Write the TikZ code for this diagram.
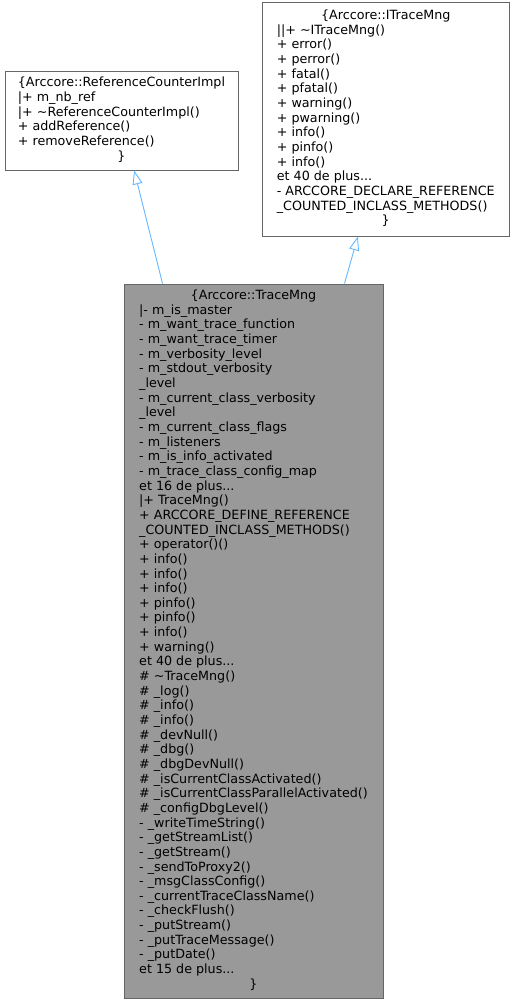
\documentclass[tikz,border=0pt]{standalone}
\usepackage{fontspec}
\setmainfont{DejaVu Sans}
\usetikzlibrary{arrows.meta,calc,positioning}
\definecolor{doxborder}{HTML}{666666}
\definecolor{doxfocus}{HTML}{999999}
\definecolor{doxedge}{HTML}{63B8FF}

\begin{document}
\begin{tikzpicture}[x=1pt, y=-1pt,
      classbox/.style={draw=doxborder, line width=0.9pt, fill=white, inner sep=0pt, align=center, font=\fontsize{12.7}{14.65}\selectfont},
      inherit/.style={draw=doxedge, line width=0.9pt, -{Triangle[length=14pt, width=10pt, fill=white]}}
    ]
      \useasboundingbox (0,0) rectangle (515,1004);

      % Base class: reference counter
      \node[classbox, minimum width=233pt, minimum height=99pt] (refimpl) at (121.5, 120.5) {%
        \begin{tabular}{@{}l@{}}
        \multicolumn{1}{@{}c@{}}{\{Arccore::ReferenceCounterImpl}\\
        |+ m\_nb\_ref\\
        |+ \textasciitilde ReferenceCounterImpl()\\
        + addReference()\\
        + removeReference()\\
        \multicolumn{1}{@{}c@{}}{\}}
        \end{tabular}};

      % Base class: trace interface
      \node[classbox, minimum width=247.5pt, minimum height=233.5pt] (itracemng) at (385.75, 119.25) {%
        \begin{tabular}{@{}l@{}}
        \multicolumn{1}{@{}c@{}}{\{Arccore::ITraceMng}\\
        ||+ \textasciitilde ITraceMng()\\
        + error()\\
        + perror()\\
        + fatal()\\
        + pfatal()\\
        + warning()\\
        + pwarning()\\
        + info()\\
        + pinfo()\\
        + info()\\
        et 40 de plus...\\
        - ARCCORE\_DECLARE\_REFERENCE\\
        \_COUNTED\_INCLASS\_METHODS()\\
        \multicolumn{1}{@{}c@{}}{\}}
        \end{tabular}};

      % Derived class
      \node[classbox, fill=doxfocus, minimum width=259pt, minimum height=714pt] (tracemng) at (253.5, 641) {%
        \begin{tabular}{@{}l@{}}
        \multicolumn{1}{@{}c@{}}{\{Arccore::TraceMng}\\
        |- m\_is\_master\\
        - m\_want\_trace\_function\\
        - m\_want\_trace\_timer\\
        - m\_verbosity\_level\\
        - m\_stdout\_verbosity\\
        \_level\\
        - m\_current\_class\_verbosity\\
        \_level\\
        - m\_current\_class\_flags\\
        - m\_listeners\\
        - m\_is\_info\_activated\\
        - m\_trace\_class\_config\_map\\
        et 16 de plus...\\
        |+ TraceMng()\\
        + ARCCORE\_DEFINE\_REFERENCE\\
        \_COUNTED\_INCLASS\_METHODS()\\
        + operator()()\\
        + info()\\
        + info()\\
        + info()\\
        + pinfo()\\
        + pinfo()\\
        + info()\\
        + warning()\\
        et 40 de plus...\\
        \# \textasciitilde TraceMng()\\
        \# \_log()\\
        \# \_info()\\
        \# \_info()\\
        \# \_devNull()\\
        \# \_dbg()\\
        \# \_dbgDevNull()\\
        \# \_isCurrentClassActivated()\\
        \# \_isCurrentClassParallelActivated()\\
        \# \_configDbgLevel()\\
        - \_writeTimeString()\\
        - \_getStreamList()\\
        - \_getStream()\\
        - \_sendToProxy2()\\
        - \_msgClassConfig()\\
        - \_currentTraceClassName()\\
        - \_checkFlush()\\
        - \_putStream()\\
        - \_putTraceMessage()\\
        - \_putDate()\\
        et 15 de plus...\\
        \multicolumn{1}{@{}c@{}}{\}}
        \end{tabular}};

      % Inheritance
      \draw[inherit] ($(tracemng.north west)!0.15!(tracemng.north east)$) -- ($(refimpl.south west)!0.554!(refimpl.south east)$);
      \draw[inherit] ($(tracemng.north west)!0.85!(tracemng.north east)$) -- ($(itracemng.south west)!0.388!(itracemng.south east)$);
    \end{tikzpicture}
\end{document}
